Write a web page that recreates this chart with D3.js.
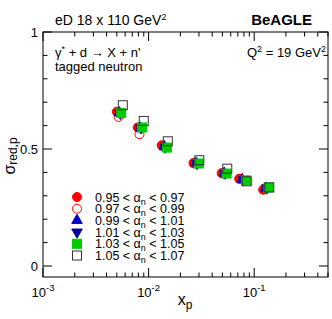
<!DOCTYPE html>
<html>
<head>
<meta charset="utf-8">
<script src="https://cdn.jsdelivr.net/npm/d3@7"></script>
<style>
body { margin: 0; background: #fff; }
text { font-family: "Liberation Sans", Arial, sans-serif; fill: #000; }
</style>
</head>
<body>
<svg id="chart" width="332" height="319"></svg>
<script>
// alpha_n bins, x_p and sigma_red values per bin
var binLabels = ["0.95 < ", "0.97 < ", "0.99 < ", "1.01 < ", "1.03 < ", "1.05 < "];
var binUpper = [" < 0.97", " < 0.99", " < 1.01", " < 1.03", " < 1.05", " < 1.07"];

var xRed = [0.0050, 0.0079, 0.0133, 0.0266, 0.0492, 0.0721, 0.1216];
var xOpenCircle = [0.0052, 0.0082, 0.0137, 0.0273, 0.0505, 0.0740, 0.1250];
var xUp = [0.0053, 0.0084, 0.0141, 0.0283, 0.0520, 0.0770, 0.1290];
var xDown = [0.0054, 0.0085, 0.0144, 0.0288, 0.0530, 0.0790, 0.1320];
var xGreen = [0.0055, 0.0087, 0.0149, 0.0299, 0.0548, 0.0835, 0.1365];
var xOpenSq = [0.0057, 0.0090, 0.0152, 0.0302, 0.0556, 0.0850, 0.1390];

var yRed = [0.659, 0.592, 0.516, 0.440, 0.397, 0.373, 0.326];
var yOpenCircle = [0.637, 0.563, 0.512, 0.438, 0.395, 0.372, 0.328];
var yUp = [0.655, 0.590, 0.510, 0.440, 0.397, 0.370, 0.333];
var yDown = [0.652, 0.590, 0.508, 0.438, 0.396, 0.368, 0.334];
var yGreen = [0.654, 0.592, 0.506, 0.438, 0.395, 0.366, 0.335];
var yOpenSq = [0.687, 0.620, 0.533, 0.452, 0.416, 0.362, 0.336];

var series = [
    {x: xRed, y: yRed, shape: "circle", fill: "#ff0000", stroke: "#ff0000"},
    {x: xOpenCircle, y: yOpenCircle, shape: "circle", fill: "none", stroke: "#ff0000"},
    {x: xUp, y: yUp, shape: "up", fill: "#0000cc", stroke: "#0000cc"},
    {x: xDown, y: yDown, shape: "down", fill: "#000099", stroke: "#000099"},
    {x: xGreen, y: yGreen, shape: "square", fill: "#00cc00", stroke: "#00cc00"},
    {x: xOpenSq, y: yOpenSq, shape: "square", fill: "none", stroke: "#333333"}
];

var svg = d3.select("#chart");
var frameL = 43, frameR = 328, frameT = 32, frameB = 277;

var x = d3.scaleLog().domain([0.001, 0.5]).range([frameL, frameR]);
var y = d3.scaleLinear().domain([-0.047, 1]).range([frameB, frameT]);

// frame
svg.append("rect").attr("x", frameL).attr("y", frameT)
    .attr("width", frameR - frameL).attr("height", frameB - frameT)
    .attr("fill", "none").attr("stroke", "#000").attr("stroke-width", 1);

// x ticks (log, top and bottom, inward)
var xTicks = [];
for (var e = -3; e <= -1; e++) {
    for (var m = 1; m <= 9; m++) {
        var v = m * Math.pow(10, e);
        if (v <= 0.5) xTicks.push({v: v, major: m == 1});
    }
}
xTicks.forEach(function(t){
    var len = t.major ? 9 : 4.5;
    var px = x(t.v);
    svg.append("line").attr("x1", px).attr("x2", px).attr("y1", frameB).attr("y2", frameB - len)
        .attr("stroke", "#000");
    svg.append("line").attr("x1", px).attr("x2", px).attr("y1", frameT).attr("y2", frameT + len)
        .attr("stroke", "#000");
});

// y ticks
var yTicks = d3.range(0, 11).map(function(i){ return {v: i / 10, major: i % 5 == 0}; });
yTicks.forEach(function(t){
    var len = t.major ? 9 : 4.5;
    var py = y(t.v);
    svg.append("line").attr("x1", frameL).attr("x2", frameL + len).attr("y1", py).attr("y2", py)
        .attr("stroke", "#000");
    svg.append("line").attr("x1", frameR).attr("x2", frameR - len).attr("y1", py).attr("y2", py)
        .attr("stroke", "#000");
});

// y tick labels
[{v: 0, t: "0"}, {v: 0.5, t: "0.5"}, {v: 1, t: "1"}].forEach(function(d){
    svg.append("text").attr("x", frameL - 5).attr("y", y(d.v) + 5)
        .attr("text-anchor", "end").style("font-size", "13px").text(d.t);
});

// x tick labels
[-3, -2, -1].forEach(function(e){
    var g = svg.append("text").attr("x", x(Math.pow(10, e))).attr("y", 297)
        .attr("text-anchor", "middle").style("font-size", "13px");
    g.append("tspan").text("10");
    g.append("tspan").attr("dy", -6).style("font-size", "9.5px").text(e);
});

// axis titles
var xt = svg.append("text").attr("x", 185).attr("y", 305)
    .attr("text-anchor", "middle").style("font-size", "16px");
xt.append("tspan").text("x");
xt.append("tspan").attr("dy", 4).style("font-size", "12px").text("p");

var yt = svg.append("text").attr("transform", "translate(15,156) rotate(-90)")
    .attr("text-anchor", "middle").style("font-size", "16px");
yt.append("tspan").text("σ");
yt.append("tspan").attr("dy", 2).style("font-size", "12px").text("red,p");

// header text
var h1 = svg.append("text").attr("x", 55).attr("y", 25).style("font-size", "14px");
h1.append("tspan").text("eD 18 x 110 GeV");
h1.append("tspan").attr("dy", -5).style("font-size", "9px").text("2");

svg.append("text").attr("x", 312).attr("y", 25).attr("text-anchor", "end")
    .style("font-size", "15px").style("font-weight", "bold").text("BeAGLE");

var r1 = svg.append("text").attr("x", 55).attr("y", 57).style("font-size", "13px");
r1.append("tspan").text("γ");
r1.append("tspan").attr("dy", -5).style("font-size", "9px").text("*");
r1.append("tspan").attr("dy", 5).text(" + d → X + n'");

svg.append("text").attr("x", 55).attr("y", 71).style("font-size", "13px").text("tagged neutron");

var q = svg.append("text").attr("x", 326).attr("y", 57).attr("text-anchor", "end").style("font-size", "13px");
q.append("tspan").text("Q");
q.append("tspan").attr("dy", -5).style("font-size", "9px").text("2");
q.append("tspan").attr("dy", 5).text(" = 19 GeV");
q.append("tspan").attr("dy", -5).style("font-size", "9px").text("2");

// markers
function drawMarker(g, shape, cx, cy, fill, stroke) {
    var s = 4.5;
    if (shape == "circle") {
        g.append("circle").attr("cx", cx).attr("cy", cy).attr("r", s)
            .attr("fill", fill).attr("stroke", stroke).attr("stroke-width", 1);
    } else if (shape == "square") {
        g.append("rect").attr("x", cx - s).attr("y", cy - s).attr("width", 2 * s).attr("height", 2 * s)
            .attr("fill", fill).attr("stroke", stroke).attr("stroke-width", 1);
    } else {
        var sym = d3.symbol().type(d3.symbolTriangle).size(48);
        g.append("path").attr("d", sym())
            .attr("transform", "translate(" + cx + "," + cy + ")" + (shape == "down" ? " rotate(180)" : ""))
            .attr("fill", fill).attr("stroke", stroke);
    }
}

var pts = svg.append("g");
series.forEach(function(s){
    s.x.forEach(function(xv, i){
        drawMarker(pts, s.shape, x(xv), y(s.y[i]), s.fill, s.stroke);
    });
});

// legend
var leg = svg.append("g");
series.forEach(function(s, i){
    var ly = 197 + i * 11.7;
    drawMarker(leg, s.shape, 77, ly, s.fill, s.stroke);
    var t = leg.append("text").attr("x", 95).attr("y", ly + 4.5).style("font-size", "12.5px");
    t.append("tspan").text(binLabels[i] + "α");
    t.append("tspan").attr("dy", 3).style("font-size", "9px").text("n");
    t.append("tspan").attr("dy", -3).text(binUpper[i]);
});
</script>
</body>
</html>
